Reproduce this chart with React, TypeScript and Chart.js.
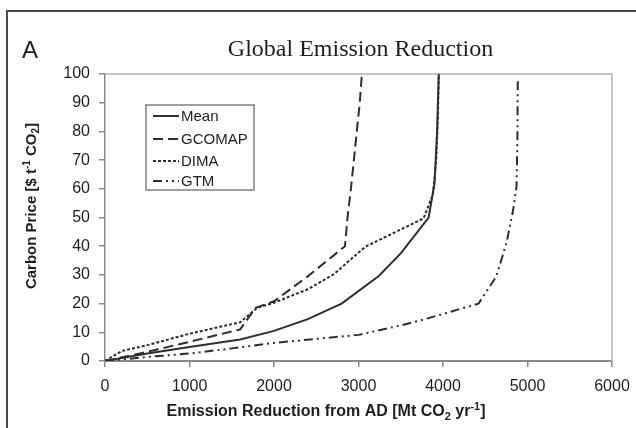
import React, { useEffect, useRef } from "react";
import { Chart, registerables } from "chart.js";

Chart.register(...registerables);

// ---------- data ----------
const xTickValues = [0, 1000, 2000, 3000, 4000, 5000, 6000];
const yTickValues = [0, 10, 20, 30, 40, 50, 60, 70, 80, 90, 100];

const seriesNames = ["Mean", "GCOMAP", "DIMA", "GTM"];

const meanX = [0, 500, 1000, 1600, 2000, 2400, 2800, 3240, 3500, 3830, 3900, 3930, 3950];
const meanY = [0, 2.6, 4.9, 7.5, 10.5, 14.6, 20, 29.6, 37.5, 50, 62, 80, 100];

const gcomapX = [0, 500, 1000, 1600, 1780, 2000, 2400, 2840, 2870, 2910, 2945, 2980, 3015, 3040];
const gcomapY = [0, 3.2, 6.7, 11, 18.5, 20.8, 29.5, 40, 50, 60, 70, 80, 90, 100];

const dimaX = [0, 200, 500, 1000, 1600, 1800, 2000, 2400, 2710, 3080, 3770, 3880, 3920, 3940, 3950];
const dimaY = [0, 3.5, 5.5, 9.5, 13.5, 18.5, 20.3, 25, 30.3, 39.8, 49.7, 58, 70, 85, 100];

const gtmX = [0, 500, 1000, 1500, 2000, 2500, 3000, 3500, 3800, 4420, 4630, 4750, 4830, 4870, 4880, 4885];
const gtmY = [0, 1.4, 2.6, 4.4, 6.3, 7.7, 9.1, 12.4, 14.7, 20, 29.4, 41, 52.6, 60.7, 75.8, 98.5];

const chartTitle = "Global Emission Reduction";
const panelLabel = "A";
type Seg = { t: string; k?: "sup" | "sub" };
const xTitleSegs: Seg[] = [
  { t: "Emission Reduction from AD [Mt CO" },
  { t: "2", k: "sub" },
  { t: " yr" },
  { t: "-1", k: "sup" },
  { t: "]" },
];
const yTitleSegs: Seg[] = [
  { t: "Carbon Price [$ t" },
  { t: "-1", k: "sup" },
  { t: " CO" },
  { t: "2", k: "sub" },
  { t: "]" },
];

// ---------- styles ----------
const LINE = "#2e2e2e";
const SANS = "'Liberation Sans', Arial, sans-serif";
const SERIF = "'Liberation Serif', 'Times New Roman', serif";
const dashes: number[][] = [[], [10, 5], [3, 2], [9, 4, 2, 4, 2, 4]];

function pts(xs: number[], ys: number[]) {
  return xs.map((x, i) => ({ x, y: ys[i] }));
}

function drawRich(
  ctx: CanvasRenderingContext2D,
  segs: Seg[],
  cx: number,
  cy: number,
  size: number,
  weight: string
) {
  const main = `${weight} ${size}px ${SANS}`;
  const small = `${weight} ${Math.round(size * 0.68)}px ${SANS}`;
  let w = 0;
  const widths: number[] = [];
  for (const s of segs) {
    ctx.font = s.k ? small : main;
    const m = ctx.measureText(s.t).width;
    widths.push(m);
    w += m;
  }
  let x = cx - w / 2;
  ctx.textAlign = "left";
  ctx.textBaseline = "middle";
  segs.forEach((s, i) => {
    ctx.font = s.k ? small : main;
    const dy = s.k === "sup" ? -size * 0.32 : s.k === "sub" ? size * 0.28 : 0;
    ctx.fillText(s.t, x, cy + dy);
    x += widths[i];
  });
}

const decorPlugin = {
  id: "decor",
  beforeDraw(chart: any) {
    const ctx = chart.ctx as CanvasRenderingContext2D;
    ctx.save();
    ctx.fillStyle = "#ffffff";
    ctx.fillRect(0, 0, chart.width, chart.height);
    ctx.strokeStyle = "#4a4a4a";
    ctx.lineWidth = 2;
    ctx.beginPath();
    ctx.moveTo(7, chart.height);
    ctx.lineTo(7, 11);
    ctx.lineTo(chart.width, 11);
    ctx.stroke();
    ctx.restore();
  },
  beforeDatasetsDraw(chart: any) {
    const ctx = chart.ctx as CanvasRenderingContext2D;
    const a = chart.chartArea;
    ctx.save();
    ctx.strokeStyle = "#b4b4b4";
    ctx.lineWidth = 1.5;
    ctx.beginPath();
    ctx.moveTo(a.left, a.top);
    ctx.lineTo(a.right, a.top);
    ctx.lineTo(a.right, a.bottom);
    ctx.stroke();
    ctx.restore();
  },
  afterDraw(chart: any) {
    const ctx = chart.ctx as CanvasRenderingContext2D;
    const a = chart.chartArea;
    ctx.save();
    ctx.fillStyle = "#1e1e1e";
    // panel label
    ctx.font = `24px ${SANS}`;
    ctx.textAlign = "left";
    ctx.textBaseline = "middle";
    ctx.fillText(panelLabel, 22, 51);
    // main title
    ctx.font = `24px ${SERIF}`;
    ctx.textAlign = "center";
    ctx.fillText(chartTitle, (a.left + a.right) / 2 + 2, 50);
    // axis titles
    drawRich(ctx, xTitleSegs, 326, 412, 16, "bold");
    ctx.save();
    ctx.translate(32, 206);
    ctx.rotate(-Math.PI / 2);
    drawRich(ctx, yTitleSegs, 0, 0, 15, "bold");
    ctx.restore();

    // legend box
    const bx = 146, by = 105, bw = 108, bh = 85;
    ctx.fillStyle = "#ffffff";
    ctx.fillRect(bx, by, bw, bh);
    ctx.strokeStyle = "#808080";
    ctx.lineWidth = 1.5;
    ctx.strokeRect(bx, by, bw, bh);
    const rows = [116, 139, 161, 181];
    chart.data.datasets.forEach((ds: any, i: number) => {
      const y = rows[i];
      ctx.strokeStyle = ds.borderColor;
      ctx.lineWidth = ds.borderWidth;
      ctx.setLineDash(ds.borderDash || []);
      ctx.beginPath();
      ctx.moveTo(153, y);
      ctx.lineTo(179, y);
      ctx.stroke();
      ctx.setLineDash([]);
      ctx.fillStyle = "#1e1e1e";
      ctx.font = `15px ${SANS}`;
      ctx.textAlign = "left";
      ctx.textBaseline = "middle";
      ctx.fillText(ds.label, 181, y + 0.5);
    });
    ctx.restore();
  },
};

export default function App() {
  const ref = useRef<HTMLCanvasElement | null>(null);

  useEffect(() => {
    if (!ref.current) return;
    const xsAll = [meanX, gcomapX, dimaX, gtmX];
    const ysAll = [meanY, gcomapY, dimaY, gtmY];
    const chart = new Chart(ref.current, {
      type: "scatter",
      data: {
        datasets: seriesNames.map((name, i) => ({
          label: name,
          data: pts(xsAll[i], ysAll[i]),
          showLine: true,
          borderColor: LINE,
          backgroundColor: LINE,
          borderWidth: 2,
          borderDash: dashes[i],
          pointRadius: 0,
          pointHoverRadius: 0,
          tension: 0,
          fill: false,
        })),
      },
      options: {
        animation: false,
        responsive: false,
        devicePixelRatio: 1,
        layout: { padding: { top: 74, right: 24, bottom: 0, left: 0 } },
        plugins: {
          legend: { display: false },
          tooltip: { enabled: false },
          title: { display: false },
        },
        scales: {
          x: {
            type: "linear",
            min: 0,
            max: 6000,
            afterFit: (s: any) => {
              s.height = 67;
              s.paddingLeft = 0;
              s.paddingRight = 0;
            },
            afterBuildTicks: (s: any) => {
              s.ticks = xTickValues.map((v) => ({ value: v }));
            },
            ticks: {
              color: "#1e1e1e",
              font: { family: SANS, size: 16 },
              padding: 10,
              maxRotation: 0,
              callback: (v: any) => String(v),
            },
            grid: {
              display: true,
              drawOnChartArea: false,
              drawTicks: true,
              tickLength: 6,
              color: "#8a8a8a",
              lineWidth: 1.5,
            },
            border: { display: true, color: "#8a8a8a", width: 2 },
          },
          y: {
            type: "linear",
            min: 0,
            max: 100,
            afterFit: (s: any) => {
              s.width = 105;
              s.paddingTop = 0;
              s.paddingBottom = 0;
            },
            afterBuildTicks: (s: any) => {
              s.ticks = yTickValues.map((v) => ({ value: v }));
            },
            ticks: {
              color: "#1e1e1e",
              font: { family: SANS, size: 16 },
              padding: 9,
              callback: (v: any) => String(v),
            },
            grid: {
              display: true,
              drawOnChartArea: false,
              drawTicks: true,
              tickLength: 6,
              color: "#8a8a8a",
              lineWidth: 1.5,
            },
            border: { display: true, color: "#8a8a8a", width: 1.5 },
          },
        },
      },
      plugins: [decorPlugin],
    });
    return () => chart.destroy();
  }, []);

  return (
    <div style={{ position: "fixed", left: 0, top: 0, width: 636, height: 428, background: "#fff" }}>
      <canvas ref={ref} width={636} height={428} style={{ display: "block" }} />
    </div>
  );
}
